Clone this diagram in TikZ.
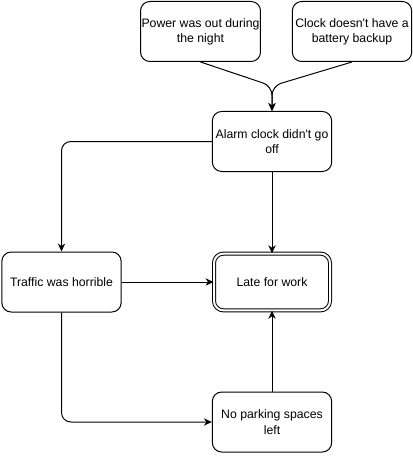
\documentclass[tikz,border=0pt]{standalone}
\usepackage{fontspec}
\setmainfont{Liberation Sans}[Ligatures=TeXOff]
\usepackage{tikz}
\usetikzlibrary{arrows.meta}

\begin{document}
\begin{tikzpicture}[x=0.75pt,y=0.75pt,yscale=-1,xscale=1,line width=0.75pt,
  box/.style={draw,rounded corners=7pt,minimum width=89.5pt,minimum height=45pt,align=center,inner sep=0.75pt,font=\fontsize{9.2}{11.5}\selectfont},
  link/.style={-{Stealth[length=6pt,width=5.5pt]},rounded corners=7pt}]
                \useasboundingbox (0,0) rectangle (413,456);

                %Rounded Rect: causes
                \node [box] (power) at (200.5,31.5) {Power was out during\\the night};
                \node [box] (clock) at (352,31.5) {Clock doesn't have a\\battery backup};
                \coordinate (merge) at (272,86);
                %Rounded Rect: alarm
                \node [box] (alarm) at (272,141.5) {Alarm clock didn't go\\off};
                %Rounded Rect: traffic
                \node [box] (traffic) at (61.5,282) {Traffic was horrible};
                %Double Rect: result
                \node [box,double,double distance=1.5pt,minimum width=87pt,minimum height=42.5pt] (late) at (272,282) {Late for work};
                %Rounded Rect: parking
                \node [box] (parking) at (272,422) {No parking spaces\\left};

                %Connectors
                \draw [link] (power.south) -- (merge) -- (alarm.north);
                \draw [link] (clock.south) -- (merge) -- (alarm.north);
                \draw [link] (alarm.west) -| (traffic.north);
                \draw [link] (alarm.south) -- (late.north);
                \draw [link] (traffic.east) -- (late.west);
                \draw [link] (traffic.south) |- (parking.west);
                \draw [link] (parking.north) -- (late.south);

\end{tikzpicture}
\end{document}
